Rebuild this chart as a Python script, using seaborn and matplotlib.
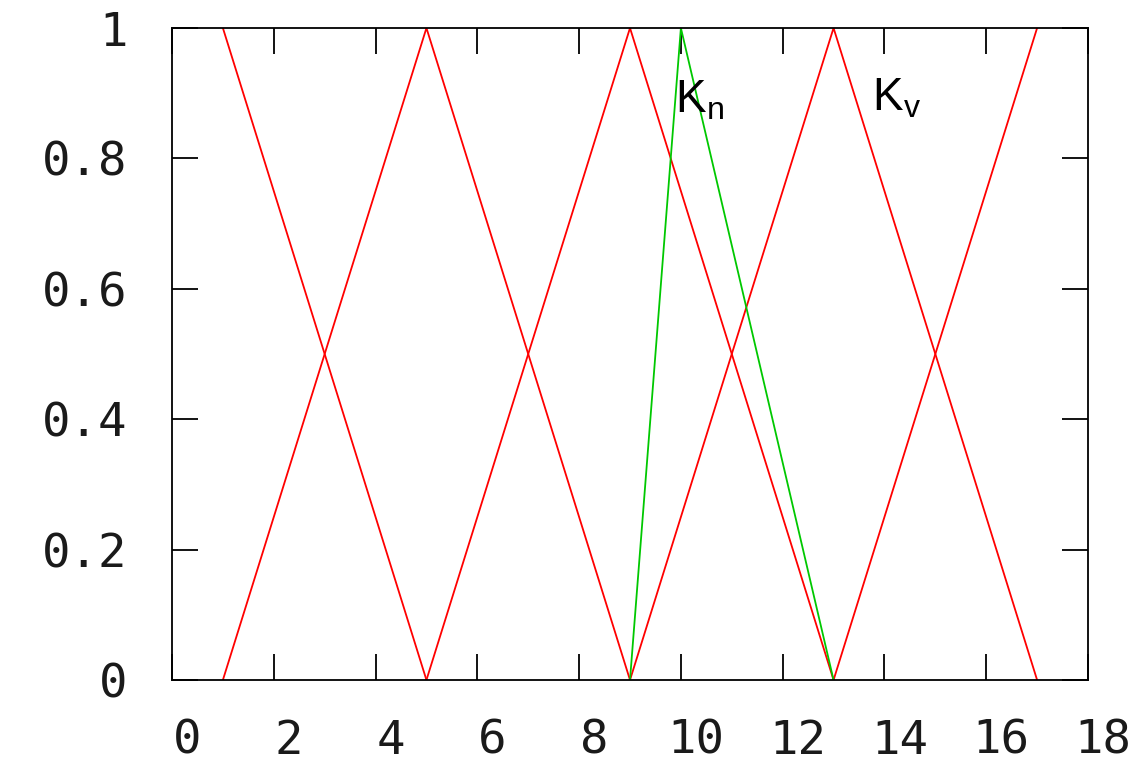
import matplotlib
matplotlib.use('Agg')
import matplotlib.pyplot as plt
import matplotlib.transforms as mtransforms
import seaborn as sns
import pandas as pd

# Fonctions d'appartenance triangulaires (rouge)
red_sets = {
    'A': ([1, 5], [1, 0]),
    'B': ([1, 5, 9], [0, 1, 0]),
    'C': ([5, 9, 13], [0, 1, 0]),
    'D': ([9, 13, 17], [0, 1, 0]),
    'E': ([13, 17], [0, 1]),
}

# Courbe verte
green_x = [9, 10, 13]
green_y = [0, 1, 0]

x_ticks = [0, 2, 4, 6, 8, 10, 12, 14, 16, 18]
y_ticks = [0, 0.2, 0.4, 0.6, 0.8, 1]
y_tick_labels = ['0', '0.2', '0.4', '0.6', '0.8', '1']

sns.set_style('white')
plt.rcParams['font.family'] = ['DejaVu Sans Mono']
plt.rcParams['text.color'] = 'black'

fig = plt.figure(figsize=(11.41, 7.66), dpi=100)
ax = fig.add_axes([172 / 1141, 1 - 680 / 766, (1088 - 172) / 1141, (680 - 28) / 766])

rows = []
for name, (xs, ys) in red_sets.items():
    for i, (xv, yv) in enumerate(zip(xs, ys)):
        rows.append({'set': name, 'order': i, 'x': xv, 'y': yv})
df_red = pd.DataFrame(rows)

sns.lineplot(data=df_red, x='x', y='y', units='set', estimator=None,
             sort=False, color='#ff0000', linewidth=1.3, ax=ax)
sns.lineplot(x=green_x, y=green_y, sort=False, estimator=None,
             color='#00c800', linewidth=1.3, ax=ax)

ax.set_xlim(0, 18)
ax.set_ylim(0, 1)
ax.set_xticks(x_ticks)
ax.set_yticks(y_ticks)
ax.set_xticklabels([str(t) for t in x_ticks])
ax.set_yticklabels(y_tick_labels)
ax.set_xlabel('')
ax.set_ylabel('')

for side in ['left', 'right', 'top', 'bottom']:
    ax.spines[side].set_visible(True)
    ax.spines[side].set_color('black')
    ax.spines[side].set_linewidth(1.3)

ax.tick_params(axis='both', which='major', direction='in', length=19,
               width=1.3, color='black', top=True, right=True,
               bottom=True, left=True, labelsize=34, labelcolor='#1a1a1a')
ax.tick_params(axis='x', pad=28)
ax.tick_params(axis='y', pad=32)

# decalage des labels x vers la droite (style gnuplot)
offset = mtransforms.ScaledTranslation(15 / 100, 0, fig.dpi_scale_trans)
for lbl in ax.get_xticklabels():
    lbl.set_transform(lbl.get_transform() + offset)
    lbl.set_fontweight('light')
for lbl in ax.get_yticklabels():
    lbl.set_fontweight('light')

ax.text(9.88, 0.871, r'$\mathregular{K_n}$', fontsize=33, color='black',
        family='Liberation Sans', ha='left', va='baseline')
ax.text(13.75, 0.874, r'$\mathregular{K_v}$', fontsize=33, color='black',
        family='Liberation Sans', ha='left', va='baseline')

plt.savefig('out.png', dpi=100)
plt.close()
